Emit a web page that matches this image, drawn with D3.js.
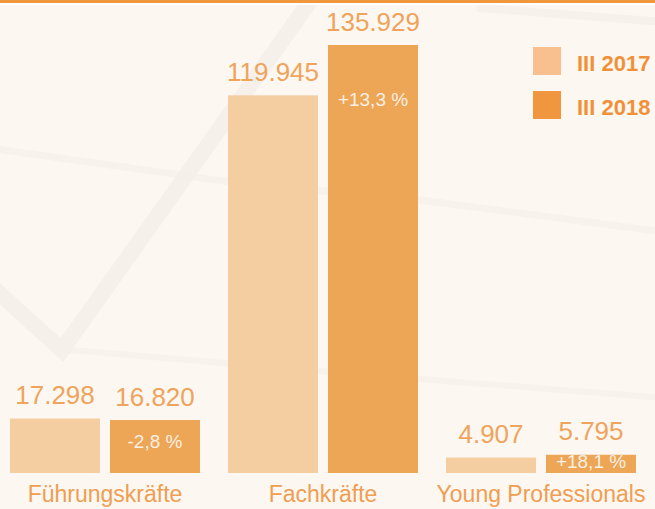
<!DOCTYPE html>
<html lang="de">
<head>
    <meta charset="UTF-8">
    <title>Führungskräfte, Fachkräfte, Young Professionals: III 2017 vs III 2018</title>
    <script src="https://d3js.org/d3.v7.min.js"></script>
    <style>
        body { margin: 0; background: #fdf7f1; }
        svg { display: block; }
        svg text { font-family: "Liberation Sans", Arial, Helvetica, sans-serif; }
    </style>
</head>
<body>
    <svg id="chart" width="655" height="509"></svg>

    <script>
        // Data
        var categories = ["Führungskräfte", "Fachkräfte", "Young Professionals"];
        var seriesNames = ["III 2017", "III 2018"];
        var values2017 = [17298, 119945, 4907];
        var values2018 = [16820, 135929, 5795];

        var barColors = ["#f4cda1", "#eda556"];
        var legendColors = ["#f8c08e", "#f0963f"];

        // German number formats (135.929 / +13,3)
        var de = d3.formatLocale({ decimal: ",", thousands: ".", grouping: [3], currency: ["", " €"], minus: "-" });
        var fmtValue = de.format(",");
        var fmtPct = de.format("+.1f");

        var width = 655, height = 509;
        var baseline = 473;
        var font = "'Liberation Sans', Arial, Helvetica, sans-serif";

        var svg = d3.select("#chart");

        // background
        svg.append("rect").attr("width", width).attr("height", height).attr("fill", "#fdf7f1");

        // faint decorative streaks behind the bars
        var deco = svg.append("g").attr("fill", "none").attr("stroke-linecap", "round");
        deco.append("path")
            .attr("d", "M-10,285 L62,350 L318,-10")
            .attr("stroke", "#f1ebe5").attr("stroke-width", 16).attr("opacity", 0.55);
        deco.append("path")
            .attr("d", "M-10,148 L230,182 L420,200 L665,232")
            .attr("stroke", "#f4eee8").attr("stroke-width", 7).attr("opacity", 0.6);
        deco.append("path")
            .attr("d", "M70,350 L330,372 L665,398")
            .attr("stroke", "#f4eee8").attr("stroke-width", 6).attr("opacity", 0.6);
        deco.append("path")
            .attr("d", "M480,8 L665,22")
            .attr("stroke", "#f3ede7").attr("stroke-width", 8).attr("opacity", 0.6);

        // orange rule along the top
        svg.append("rect").attr("x", 0).attr("y", 0).attr("width", width).attr("height", 3).attr("fill", "#f0963c");
        svg.append("rect").attr("x", 0).attr("y", 3).attr("width", width).attr("height", 2).attr("fill", "#ffffff");

        // scales
        var x0 = d3.scaleBand()
                   .domain(categories)
                   .range([10, 636])
                   .paddingInner(28 / 218)
                   .paddingOuter(0);

        var x1 = d3.scaleBand()
                   .domain(seriesNames)
                   .range([0, x0.bandwidth()])
                   .paddingInner(0.1);

        var y = d3.scaleLinear()
                  .domain([0, d3.max(values2018.concat(values2017))])
                  .range([baseline, 45]);

        var rows = categories.map(function(c, i) {
            return { category: c, values: [values2017[i], values2018[i]] };
        });

        var groups = svg.selectAll(".group")
                        .data(rows)
                        .enter().append("g")
                        .attr("class", "group")
                        .attr("transform", function(d) { return "translate(" + x0(d.category) + ",0)"; });

        // bars
        groups.selectAll("rect")
              .data(function(d) { return d.values.map(function(v, j) { return { key: seriesNames[j], value: v, j: j }; }); })
              .enter().append("rect")
              .attr("x", function(d) { return x1(d.key); })
              .attr("y", function(d) { return y(d.value); })
              .attr("width", x1.bandwidth())
              .attr("height", function(d) { return baseline - y(d.value); })
              .attr("fill", function(d) { return barColors[d.j]; });

        // value labels above bars
        groups.selectAll(".value")
              .data(function(d) { return d.values.map(function(v, j) { return { key: seriesNames[j], value: v }; }); })
              .enter().append("text")
              .attr("class", "value")
              .attr("x", function(d) { return x1(d.key) + x1.bandwidth() / 2; })
              .attr("y", function(d) { return y(d.value) - 14.5; })
              .attr("text-anchor", "middle")
              .attr("font-family", font)
              .attr("font-size", 26)
              .attr("fill", "#eea45c")
              .text(function(d) { return fmtValue(d.value); });

        // change in percent inside the 2018 bar
        groups.append("text")
              .attr("x", x1(seriesNames[1]) + x1.bandwidth() / 2)
              .attr("y", function(d) {
                  var top = y(d.values[1]);
                  var h = baseline - top;
                  return top + Math.min(61, Math.max(h * 0.53, 13));
              })
              .attr("text-anchor", "middle")
              .attr("font-family", font)
              .attr("font-size", 19)
              .attr("fill", "#ffffff")
              .attr("fill-opacity", 0.85)
              .text(function(d) { return fmtPct((d.values[1] / d.values[0] - 1) * 100) + " %"; });

        // category labels
        groups.append("text")
              .attr("x", x0.bandwidth() / 2)
              .attr("y", 502)
              .attr("text-anchor", "middle")
              .attr("font-family", font)
              .attr("font-size", 23)
              .attr("fill", "#ef9e52")
              .text(function(d) { return d.category; });

        // legend
        var legend = svg.selectAll(".legend")
                        .data(seriesNames)
                        .enter().append("g")
                        .attr("class", "legend")
                        .attr("transform", function(d, i) { return "translate(533," + (47 + i * 44) + ")"; });

        legend.append("rect")
              .attr("width", 28)
              .attr("height", 28)
              .attr("fill", function(d, i) { return legendColors[i]; });

        legend.append("text")
              .attr("x", 44)
              .attr("y", 24)
              .attr("font-family", font)
              .attr("font-size", 22)
              .attr("font-weight", "bold")
              .attr("fill", "#f0913a")
              .text(function(d) { return d; });
    </script>
</body>
</html>
